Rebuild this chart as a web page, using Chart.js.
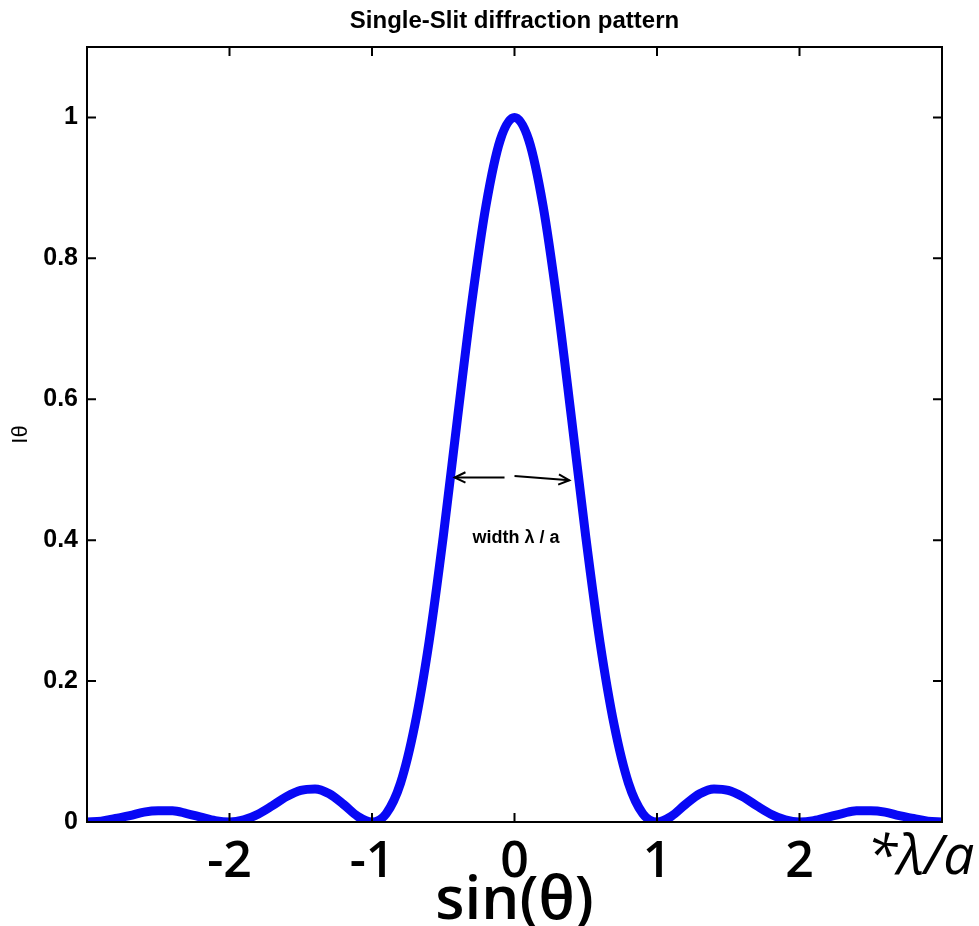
<!DOCTYPE html>
<html>
<head>
<meta charset="utf-8">
<script src="https://cdn.jsdelivr.net/npm/chart.js@4"></script>
<style>
  body { margin: 0; background: #fff; }
  #wrap { position: relative; width: 979px; height: 926px; }
</style>
</head>
<body>
<div id="wrap"><canvas id="myChart"></canvas></div>
<script>
// sin(theta) in units of lambda/a
const xValues = [-3.0, -2.9, -2.8, -2.7, -2.6, -2.5, -2.4, -2.3, -2.2, -2.1,
                 -2.0, -1.9, -1.8, -1.7, -1.6, -1.5, -1.4, -1.3, -1.2, -1.1,
                 -1.0, -0.9, -0.8, -0.7, -0.6, -0.5, -0.4, -0.3, -0.2, -0.1,
                  0.0,  0.1,  0.2,  0.3,  0.4,  0.5,  0.6,  0.7,  0.8,  0.9,
                  1.0,  1.1,  1.2,  1.3,  1.4,  1.5,  1.6,  1.7,  1.8,  1.9,
                  2.0,  2.1,  2.2,  2.3,  2.4,  2.5,  2.6,  2.7,  2.8,  2.9, 3.0];
// intensity
const intensity = [0.000, 0.001, 0.005, 0.009, 0.014, 0.016, 0.016, 0.012, 0.007, 0.002,
                   0.000, 0.003, 0.011, 0.023, 0.036, 0.045, 0.047, 0.040, 0.025, 0.008,
                   0.000, 0.012, 0.055, 0.137, 0.255, 0.405, 0.573, 0.737, 0.875, 0.968,
                   1.000, 0.968, 0.875, 0.737, 0.573, 0.405, 0.255, 0.137, 0.055, 0.012,
                   0.000, 0.008, 0.025, 0.040, 0.047, 0.045, 0.036, 0.023, 0.011, 0.003,
                   0.000, 0.002, 0.007, 0.012, 0.016, 0.016, 0.014, 0.009, 0.005, 0.001, 0.000];

const xTicks = [-3, -2, -1, 0, 1, 2, 3];
const xTickLabels = ['', '-2', '-1', '0', '1', '2', ''];
const yTicks = [0, 0.2, 0.4, 0.6, 0.8, 1];
const yTickLabels = ['0', '0.2', '0.4', '0.6', '0.8', '1'];

const points = xValues.map((x, i) => ({ x: x, y: intensity[i] }));

// inward tick marks + box round the plot, matlab style
const boxPlugin = {
  id: 'box',
  afterDatasetsDraw(chart) {
    const ctx = chart.ctx;
    const a = chart.chartArea;
    const xs = chart.scales.x;
    const ys = chart.scales.y;
    const len = 9;
    ctx.save();
    ctx.strokeStyle = '#000';
    ctx.lineWidth = 2;
    ctx.strokeRect(a.left, a.top, a.right - a.left, a.bottom - a.top);
    ctx.beginPath();
    xTicks.forEach(v => {
      const px = xs.getPixelForValue(v);
      ctx.moveTo(px, a.bottom); ctx.lineTo(px, a.bottom - len);
      ctx.moveTo(px, a.top); ctx.lineTo(px, a.top + len);
    });
    yTicks.forEach(v => {
      const py = ys.getPixelForValue(v);
      ctx.moveTo(a.left, py); ctx.lineTo(a.left + len, py);
      ctx.moveTo(a.right, py); ctx.lineTo(a.right - len, py);
    });
    ctx.stroke();
    ctx.restore();
  }
};

// title, the "width lambda / a" note with its two arrows, and the unit
const notePlugin = {
  id: 'note',
  afterDatasetsDraw(chart) {
    const ctx = chart.ctx;
    const xs = chart.scales.x;
    const ys = chart.scales.y;
    const a = chart.chartArea;

    function arrow(x1, y1, x2, y2) {
      const p1 = [xs.getPixelForValue(x1), ys.getPixelForValue(y1)];
      const p2 = [xs.getPixelForValue(x2), ys.getPixelForValue(y2)];
      const ang = Math.atan2(p2[1] - p1[1], p2[0] - p1[0]);
      ctx.beginPath();
      ctx.moveTo(p1[0], p1[1]);
      ctx.lineTo(p2[0], p2[1]);
      ctx.stroke();
      ctx.beginPath();
      ctx.moveTo(p2[0] - 12 * Math.cos(ang - 0.45), p2[1] - 12 * Math.sin(ang - 0.45));
      ctx.lineTo(p2[0], p2[1]);
      ctx.lineTo(p2[0] - 12 * Math.cos(ang + 0.45), p2[1] - 12 * Math.sin(ang + 0.45));
      ctx.stroke();
    }

    ctx.save();
    ctx.fillStyle = '#000';
    ctx.font = 'bold 24px "Liberation Sans", Arial, sans-serif';
    ctx.textAlign = 'center';
    ctx.textBaseline = 'middle';
    ctx.fillText('Single-Slit diffraction pattern', (a.left + a.right) / 2, 21);

    ctx.strokeStyle = '#000';
    ctx.lineWidth = 2;
    arrow(-0.07, 0.489, -0.42, 0.489);
    arrow(0.0, 0.491, 0.385, 0.485);

    ctx.font = 'bold 18px "Liberation Sans", Arial, sans-serif';
    ctx.fillText('width \u03bb / a', xs.getPixelForValue(0.01), ys.getPixelForValue(0.403));

    // unit after the last tick label
    ctx.font = 'italic 55px "Open Sans", sans-serif';
    ctx.textAlign = 'left';
    ctx.textBaseline = 'alphabetic';
    ctx.fillText('*\u03bb/a', a.right - 75, a.bottom + 52);
    ctx.restore();
  }
};

const ctx = document.getElementById('myChart').getContext('2d');
const myChart = new Chart(ctx, {
  type: 'line',
  data: {
    datasets: [{
      data: points,
      borderColor: 'rgb(8,8,245)',
      borderWidth: 9,
      pointRadius: 0,
      fill: false,
      cubicInterpolationMode: 'monotone',
      clip: 0
    }]
  },
  options: {
    responsive: true,
    maintainAspectRatio: false,
    animation: false,
    layout: { padding: { top: 47, right: 37, left: 0, bottom: 0 } },
    plugins: {
      legend: { display: false },
      tooltip: { enabled: false },
      title: { display: false }
    },
    scales: {
      x: {
        type: 'linear',
        min: -3,
        max: 3,
        afterBuildTicks(axis) { axis.ticks = xTicks.map(v => ({ value: v })); },
        afterFit(axis) { axis.height = 104; },
        grid: { display: false, drawTicks: false },
        border: { display: false },
        ticks: {
          padding: 11,
          color: '#000',
          font: { family: '"Open Sans", sans-serif', size: 50, weight: '600' },
          callback: (v) => xTickLabels[xTicks.indexOf(v)]
        },
        title: {
          display: true,
          text: 'sin(\u03b8)',
          color: '#000',
          font: { family: '"Open Sans", sans-serif', size: 60, weight: '600', lineHeight: 1 },
          padding: { top: 0, bottom: -6 }
        }
      },
      y: {
        min: 0,
        max: 1.1,
        afterBuildTicks(axis) { axis.ticks = yTicks.map(v => ({ value: v })); },
        afterFit(axis) { axis.width = 87; },
        grid: { display: false, drawTicks: false },
        border: { display: false },
        ticks: {
          padding: 9,
          color: '#000',
          font: { family: '"Liberation Sans", Arial, sans-serif', size: 25, weight: 'bold' },
          callback: (v) => yTickLabels[yTicks.indexOf(v)]
        },
        title: {
          display: true,
          text: 'I\u03b8',
          color: '#000',
          font: { family: '"Liberation Sans", Arial, sans-serif', size: 22 },
          padding: { top: 8, bottom: 0 }
        }
      }
    }
  },
  plugins: [boxPlugin, notePlugin]
});
</script>
</body>
</html>
